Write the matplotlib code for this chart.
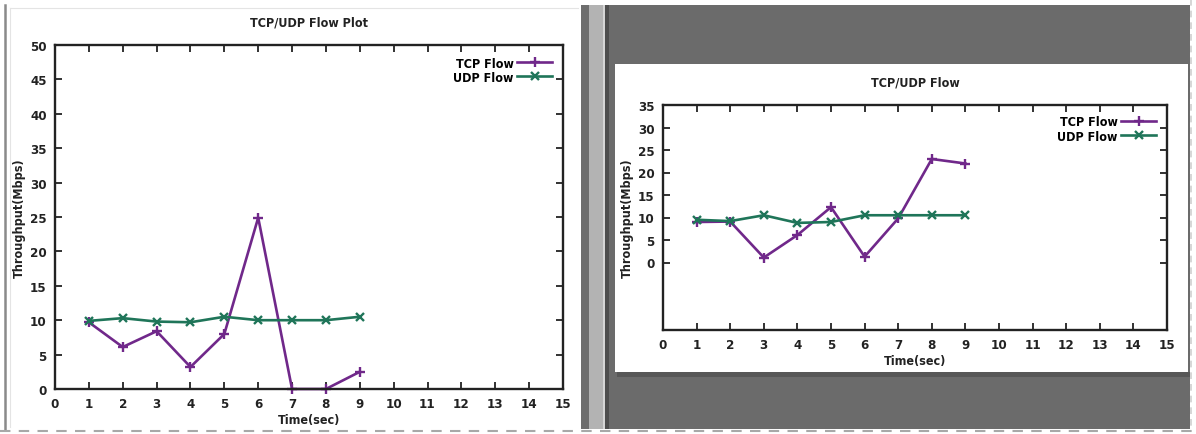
import matplotlib
matplotlib.use("Agg")
import matplotlib.pyplot as plt
from matplotlib.patches import Rectangle
from matplotlib.lines import Line2D

# Datos (dos ventanas de gnuplot)
time_sec = [1, 2, 3, 4, 5, 6, 7, 8, 9]

tcp_left = [9.7, 6.1, 8.4, 3.2, 8.0, 24.9, 0.0, 0.0, 2.5]
udp_left = [9.9, 10.3, 9.8, 9.7, 10.5, 10.0, 10.0, 10.0, 10.5]

tcp_right = [9.0, 9.1, 1.1, 6.1, 12.3, 1.3, 9.8, 23.0, 22.0]
udp_right = [9.5, 9.2, 10.5, 8.8, 9.0, 10.5, 10.5, 10.5, 10.5]

x_ticks = list(range(0, 16))
left_yticks = list(range(0, 55, 5))
right_yticks = list(range(0, 40, 5))

W, H = 1196, 435
TCP_COLOR = '#70288a'
UDP_COLOR = '#1f7559'
TEXT_COLOR = '#222222'

plt.rcParams['font.family'] = ['DejaVu Sans']
plt.rcParams['font.stretch'] = 'condensed'
plt.rcParams['font.weight'] = 'bold'
plt.rcParams['font.size'] = 9


def px_box(x0, y0, x1, y1):
    # caja en píxeles (origen arriba-izquierda) -> fracción de figura
    return [x0 / W, 1 - y1 / H, (x1 - x0) / W, (y1 - y0) / H]


def add_rect(fig, x0, y0, x1, y1, color, z=0):
    b = px_box(x0, y0, x1, y1)
    fig.patches.append(Rectangle((b[0], b[1]), b[2], b[3], transform=fig.transFigure,
                                 facecolor=color, edgecolor='none', zorder=z))


def add_line(fig, xs, ys, color, lw=1.5, ls='-', z=1):
    fig.lines.append(Line2D([x / W for x in xs], [1 - y / H for y in ys],
                            transform=fig.transFigure, color=color, lw=lw, ls=ls, zorder=z))


def flow_axes(fig, box, title, tcp, udp, ylim, yticks):
    ax = fig.add_axes(px_box(*box))
    ax.set_zorder(10)
    ax.plot(time_sec, tcp, color=TCP_COLOR, lw=1.9, marker='+', ms=7, mew=1.7,
            label='TCP Flow', clip_on=False, zorder=2)
    ax.plot(time_sec, udp, color=UDP_COLOR, lw=1.9, marker='x', ms=6, mew=1.7,
            label='UDP Flow', clip_on=False, zorder=2)
    ax.set_xlim(0, 15)
    ax.set_ylim(*ylim)
    ax.set_xticks(x_ticks)
    ax.set_yticks(yticks)
    ax.tick_params(direction='in', length=5, width=1.3, top=True, right=True,
                   labelsize=9.5, colors=TEXT_COLOR, pad=6)
    for s in ax.spines.values():
        s.set_linewidth(1.7)
        s.set_color(TEXT_COLOR)
        s.set_zorder(3)
    ax.set_title(title, fontsize=9, fontweight='bold', color=TEXT_COLOR, pad=14)
    ax.set_xlabel('Time(sec)', fontsize=9, fontweight='bold', color=TEXT_COLOR, labelpad=2)
    ax.set_ylabel('Throughput(Mbps)', fontsize=9, fontweight='bold', color=TEXT_COLOR, labelpad=3)
    ax.legend(loc='upper right', frameon=False, markerfirst=False, handlelength=2.8,
              handletextpad=0.3, labelspacing=0.1, borderaxespad=0.25, fontsize=9,
              bbox_to_anchor=(0.995, 0.99))
    return ax


fig = plt.figure(figsize=(W / 100, H / 100), dpi=100)
fig.patch.set_facecolor('white')

# marco de la ventana izquierda
add_line(fig, [5, 5], [6, 430], '#8a8a8a', lw=1.8)
add_line(fig, [10, 578], [9, 9], '#e4e4e4', lw=0.8)
add_line(fig, [10, 10], [9, 428], '#e4e4e4', lw=0.8)
add_line(fig, [0, W], [432, 432], '#a8a8a8', lw=1.5, ls=(0, (5, 4)))

# separador y fondo gris de la ventana derecha
add_rect(fig, 581, 6, 589, 430, '#6e6e6e')
add_rect(fig, 589, 6, 603, 430, '#b3b3b3')
add_rect(fig, 603, 6, 605, 430, '#d6d6d6')
add_rect(fig, 605, 6, 609, 430, '#4e4e4e')
add_rect(fig, 609, 6, 1190, 430, '#6b6b6b')
add_line(fig, [1191, 1191], [0, 430], '#d0d0d0', lw=1.2, ls=(0, (4, 3)))
add_rect(fig, 617, 373, 1190, 378, '#575757', z=1)
add_rect(fig, 615, 65, 1188, 373, 'white', z=2)

flow_axes(fig, (55, 46, 563, 390), 'TCP/UDP Flow Plot', tcp_left, udp_left, (0, 50), left_yticks)
flow_axes(fig, (663, 106, 1167, 331), 'TCP/UDP Flow', tcp_right, udp_right, (-15, 35), right_yticks)

fig.savefig('out.png', dpi=100, facecolor='white')
